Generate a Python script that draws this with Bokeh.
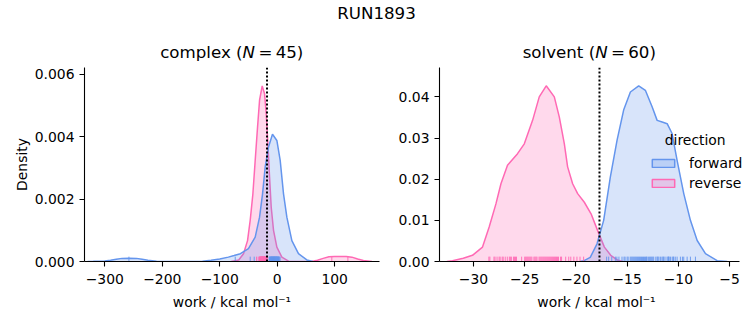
from bokeh.plotting import figure
from bokeh.models import (Range1d, FixedTicker, CustomJSTickFormatter, PrintfTickFormatter,
                          Span, Label, Legend, LegendItem, Div)
from bokeh.layouts import row, column
from bokeh.embed import file_html
from bokeh.resources import INLINE

SUPTITLE = "RUN1893"
FREE_ENERGY = -17.7
DIRECTIONS = ["forward", "reverse"]
COLORS = {"forward": "#6495ED", "reverse": "#FF69B4"}
PHASES = ["complex", "solvent"]
N_PAIRS = {"complex": 45, "solvent": 60}
X_LABEL = "work / kcal mol\u207b\u00b9"
Y_LABEL = "Density"
LEGEND_TITLE = "direction"

# ---- KDE curves (x in kcal/mol, density) ----
complex_forward_x = [-330, -320, -300, -290, -280, -270, -258, -245, -235, -225, -210, -200, -150,
                     -130, -115, -100, -85, -75, -64, -50, -38.3, -30.7, -25.5, -20.9, -15.1, -8.2,
                     -0.6, 5.2, 11, 16.8, 25.5, 37, 51.6, 62]
complex_forward_d = [0, 0.000005, 0.00002, 0.00004, 0.00007, 0.0001, 0.000106, 0.0001, 0.00007,
                     0.00004, 0.00001, 0.000002, 0.000002, 0.00001, 0.00004, 0.00008, 0.00014,
                     0.00019, 0.00025, 0.00041, 0.00078, 0.00142, 0.00217, 0.00303, 0.00367, 0.00408,
                     0.00388, 0.00324, 0.00217, 0.00142, 0.00067, 0.00025, 0.00005, 0]

complex_reverse_x = [-80, -67, -58.6, -51.6, -47, -42.3, -38.3, -34.2, -30.7, -26.1, -22, -19.1,
                     -16.2, -13.3, -10.4, -6.4, -0.6, 8.1, 19.7, 40, 60, 70, 80, 90, 100, 110, 120,
                     130, 140, 150, 165]
complex_reverse_d = [0, 0.00005, 0.00025, 0.00067, 0.00132, 0.00217, 0.00324, 0.00431, 0.00517,
                     0.00563, 0.00538, 0.00474, 0.00378, 0.00271, 0.00174, 0.001, 0.00046, 0.00014,
                     0.00001, 0, 0, 0.00004, 0.0001, 0.00015, 0.00016, 0.00016, 0.00016, 0.00014,
                     0.00008, 0.00003, 0]

solvent_forward_x = [-19.6, -19.2, -18.6, -17.94, -17.29, -16.64, -15.98, -15.34, -14.68, -13.87,
                     -13.22, -12.56, -12.07, -11.58, -11.09, -10.61, -10.12, -9.47, -8.82, -8.16,
                     -7.35, -6.21, -5.23]
solvent_forward_d = [0, 0.0002, 0.001, 0.0043, 0.010, 0.0205, 0.0295, 0.0368, 0.0412, 0.0427,
                     0.0416, 0.0376, 0.0343, 0.0339, 0.0335, 0.0311, 0.0246, 0.0165, 0.010, 0.0051,
                     0.0019, 0.0002, 0]

solvent_reverse_x = [-32.6, -32.05, -31.0, -30.1, -29.12, -28.47, -27.81, -27.32, -26.68, -25.7,
                     -25.04, -24.23, -23.58, -22.9, -22.11, -21.62, -21.13, -20.81, -20.32, -19.83,
                     -19.18, -18.52, -17.88, -17.22, -16.6, -15.9, -15.4]
solvent_reverse_d = [0, 0.0002, 0.0008, 0.0015, 0.0035, 0.0084, 0.014, 0.0189, 0.0234, 0.0262,
                     0.0286, 0.0343, 0.040, 0.0427, 0.0400, 0.0351, 0.0286, 0.0230, 0.0189, 0.0165,
                     0.0144, 0.0116, 0.0075, 0.0035, 0.0015, 0.0003, 0]

# ---- rug: individual work values ----
complex_forward_work = [-258, -73, -47, -40, -14, -13, -12.5, -12, -11, -10.5, -10, -9.5, -9, -8.5,
                        -8, -7.5, -7, -6.5, -6, -5.5, -5, -4.5, -4, -3.5, -3, -2.5, -2, -1.5, -1,
                        -0.5, 0, 0.5, 1, 1.5, 2, 2.5, 3, 3.5, 5, -11.5, -9.2, -7.2, -5.2, -3.2, -1.2]
complex_reverse_work = [-33, -31, -30.5, -30, -29.5, -29, -28.5, -28, -27.5, -27, -26.5, -26,
                        -25.5, -25, -24.5, -24, -23.5, -23, -22.5, -22, -21.5, -21, -20.5, -20,
                        -19.5, -19, -27.2, -26.2, -25.2, -24.2, -23.2, -22.2, -21.2, -28.2, -29.2,
                        -30.2, -20.2, -19.2, -36, -17, -24.7, -25.7, -26.7, 95, 123]
solvent_forward_work = [-17.0, -16.8, -16.5, -16.15, -15.8, -15.5, -15.3, -15.0, -14.9, -14.7,
                        -14.5, -14.4, -14.2, -14.0, -13.9, -13.7, -13.6, -13.4, -13.2, -13.05,
                        -12.9, -12.7, -12.6, -12.4, -12.2, -12.07, -11.9, -11.75, -11.6, -11.43,
                        -11.3, -11.1, -10.95, -10.77, -10.6, -10.45, -10.3, -10.12, -9.8, -9.47,
                        -9.14, -8.82, -8.33, -14.1, -13.8, -13.5, -13.3, -12.8, -12.5, -11.0,
                        -10.9, -15.2, -14.6, -12.0, -11.5, -10.5, -9.6, -16.0, -13.1, -14.3]
solvent_reverse_work = [-28.5, -28.4, -28.0, -27.7, -27.5, -27.4, -27.1, -26.9, -26.7, -26.5,
                        -26.4, -26.1, -25.9, -25.8, -24.9, -24.7, -24.6, -24.4, -24.3, -24.1,
                        -24.0, -23.8, -23.6, -23.5, -23.3, -23.2, -23.0, -22.9, -22.7, -22.6,
                        -22.4, -22.3, -22.2, -22.0, -21.9, -21.7, -21.5, -21.4, -21.0, -20.7,
                        -20.2, -19.9, -19.25, -23.1, -22.8, -23.9, -24.8, -25.0, -26.3, -27.2,
                        -22.5, -21.8, -20.5, -25.3, -24.5, -23.4, -22.1, -19.6, -27.9, -26.0]

complex_x_ticks = [-300, -200, -100, 0, 100]
complex_y_ticks = [0, 0.002, 0.004, 0.006]
solvent_x_ticks = [-30, -25, -20, -15, -10, -5]
solvent_y_ticks = [0, 0.01, 0.02, 0.03, 0.04]

CURVES = {
    "complex": {"forward": (complex_forward_x, complex_forward_d),
                "reverse": (complex_reverse_x, complex_reverse_d)},
    "solvent": {"forward": (solvent_forward_x, solvent_forward_d),
                "reverse": (solvent_reverse_x, solvent_reverse_d)},
}
RUGS = {
    "complex": {"forward": complex_forward_work, "reverse": complex_reverse_work},
    "solvent": {"forward": solvent_forward_work, "reverse": solvent_reverse_work},
}

FONT = "DejaVu Sans"
TICK_FS = "13.9px"
FIG_H = 263
HEAD_H = 62

minus_fmt = CustomJSTickFormatter(code="return tick < 0 ? '\u2212' + Math.abs(tick) : String(tick);")


def make_panel(phase, width, xr, xbounds, yr, xticks, yticks, yfmt, mbl, mbr, show_ylabel):
    p = figure(width=width, height=FIG_H, x_range=Range1d(*xr), y_range=Range1d(*yr),
               output_backend="svg", toolbar_location=None,
               min_border_left=mbl, min_border_right=mbr, min_border_top=5, min_border_bottom=64)
    p.outline_line_color = None
    p.grid.visible = False
    p.background_fill_color = "white"
    p.border_fill_color = "white"

    p.xaxis.ticker = FixedTicker(ticks=xticks)
    p.yaxis.ticker = FixedTicker(ticks=yticks)
    p.xaxis.formatter = minus_fmt
    p.yaxis.formatter = PrintfTickFormatter(format=yfmt)
    p.xaxis.bounds = xbounds
    for ax in p.axis:
        ax.axis_line_color = "black"
        ax.axis_line_width = 1.1
        ax.major_tick_line_color = "black"
        ax.major_tick_line_width = 1.1
        ax.major_tick_out = 5
        ax.major_tick_in = 0
        ax.minor_tick_line_color = None
        ax.major_label_text_font = FONT
        ax.major_label_text_font_size = TICK_FS
        ax.major_label_text_color = "black"
        ax.major_label_standoff = 5
        ax.axis_label_text_font = FONT
        ax.axis_label_text_font_size = TICK_FS
        ax.axis_label_text_font_style = "normal"
        ax.axis_label_text_color = "black"
    p.xaxis.major_label_standoff = 7
    p.xaxis.axis_label_standoff = 7
    p.yaxis.axis_label_standoff = 2
    p.xaxis.axis_label = X_LABEL
    if show_ylabel:
        p.yaxis.axis_label = Y_LABEL

    # KDE fills and lines (reverse drawn first, forward on top)
    for d in ["reverse", "forward"]:
        xs, ds = CURVES[phase][d]
        p.varea(x=xs, y1=[0] * len(xs), y2=ds, fill_color=COLORS[d], fill_alpha=0.25)
        p.line(xs, ds, line_color=COLORS[d], line_width=1.5)

    # rug
    rug_h = 0.025 * yr[1]
    for d in ["reverse", "forward"]:
        w = RUGS[phase][d]
        p.segment(x0=w, y0=[0] * len(w), x1=w, y1=[rug_h] * len(w),
                  line_color=COLORS[d], line_width=1, line_alpha=0.9)

    p.add_layout(Span(location=FREE_ENERGY, dimension="height", line_color="black",
                      line_dash="2 2", line_width=2))
    return p


p1 = make_panel("complex", 380, (-335.3, 178), (-335.3, 178), (0, 0.00622),
                complex_x_ticks, complex_y_ticks, "%.3f", 84, 1, True)
p2 = make_panel("solvent", 373, (-33.32, -2.66), (-33.32, -4.0), (0, 0.04715),
                solvent_x_ticks, solvent_y_ticks, "%.2f", 59, 0, False)

# legend on the solvent panel
items = []
for d in DIRECTIONS:
    r = p2.quad(left=[-100], right=[-99], top=[0], bottom=[0], fill_color=COLORS[d], fill_alpha=0.25,
                line_color=COLORS[d], line_width=1.5)
    items.append(LegendItem(label=d, renderers=[r]))
legend = Legend(items=items, location=(210, 70), glyph_width=28, glyph_height=10,
                label_standoff=12, spacing=4, padding=0, margin=0,
                border_line_color=None, background_fill_alpha=0,
                label_text_font=FONT, label_text_font_size=TICK_FS, label_text_color="black")
p2.add_layout(legend)
p2.add_layout(Label(x=255.7, y=122, x_units="screen", y_units="screen", text=LEGEND_TITLE,
                    text_align="center", text_baseline="alphabetic", text_font=FONT,
                    text_font_size=TICK_FS, text_color="black"))


def title_html(phase, center):
    return (f'<div style="position:absolute;left:{center - 150}px;width:300px;top:43px;'
            f'text-align:center;font-size:16.67px;line-height:20px;white-space:nowrap;">'
            f'{phase} (<i>N</i>&#8201;=&#8201;{N_PAIRS[phase]})</div>')


head_html = (
    '<div style="position:relative;width:753px;height:62px;font-family:\'DejaVu Sans\';color:black;">'
    f'<div style="position:absolute;left:0;top:4px;width:753px;text-align:center;font-size:16.67px;'
    f'line-height:20px;">{SUPTITLE}</div>'
    + title_html("complex", 231.8)
    + title_html("solvent", 589.3)
    + '</div>'
)
head = Div(text=head_html, width=753, height=HEAD_H, margin=(0, 0, 0, 0))

layout = column(head, row(p1, p2, spacing=0), spacing=0)

with open("out.html", "w") as f:
    f.write(file_html(layout, INLINE, title=SUPTITLE))
